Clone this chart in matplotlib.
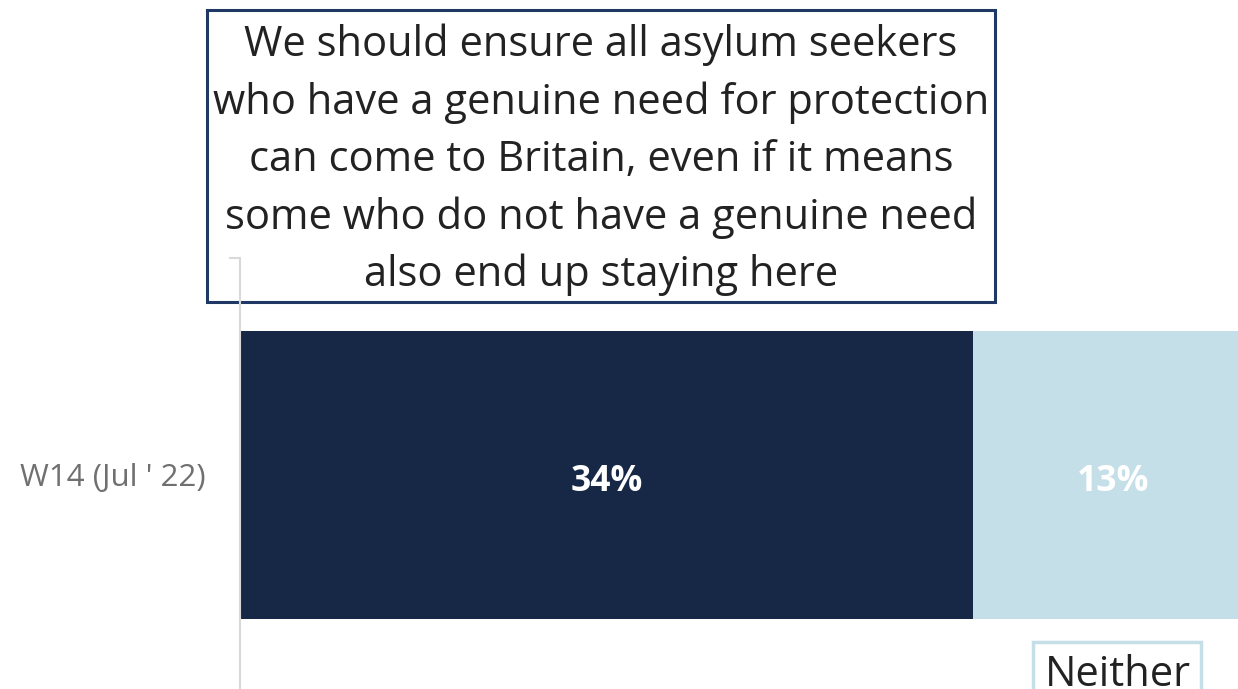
import matplotlib.pyplot as plt
from matplotlib.patches import Rectangle

plt.rcParams['font.family'] = ['Open Sans', 'DejaVu Sans']

categories = ["W14 (Jul ' 22)"]
series_names = ["Agree", "Neither"]
values = {"Agree": [34], "Neither": [13]}
colors = {"Agree": "#172846", "Neither": "#C5DFE8"}
title = ("We should ensure all asylum seekers\n"
         "who have a genuine need for protection\n"
         "can come to Britain, even if it means\n"
         "some who do not have a genuine need\n"
         "also end up staying here")

W, H = 1238, 689
fig = plt.figure(figsize=(W / 100, H / 100), dpi=100)

# axes runs past the right edge of the picture, like the cropped original
ax = fig.add_axes([240 / W, (H - 692) / H, 998 / W, 434 / H])
ax.patch.set_visible(False)
ax.set_xlim(0, 998 / 21.56)
ax.set_ylim(-0.5, 0.5)

left = 0
for name in series_names:
    v = values[name][0]
    ax.barh(0, v, left=left, height=0.664, color=colors[name], edgecolor='none')
    ax.text(left + v / 2, -0.037, f"{v}%", ha='center', va='baseline', color='white',
            fontsize=25.5, fontweight='bold', clip_on=False)
    left += v

for s in ['top', 'right', 'bottom']:
    ax.spines[s].set_visible(False)
ax.spines['left'].set_color('#D9D9D9')
ax.spines['left'].set_linewidth(1.5)
ax.set_xticks([])
ax.set_yticks([0])
ax.set_yticklabels(categories, fontsize=22.5, color='#707070')
ax.tick_params(axis='y', which='major', length=0, pad=25)
ax.set_yticks([0.5, -0.5], minor=True)
ax.tick_params(axis='y', which='minor', length=8, width=1.5, color='#D9D9D9', direction='out')

# question box (drawn under the axes so the axis line shows through)
fig.patches.append(Rectangle((207 / W, 1 - 302 / H), 788 / W, 292 / H, transform=fig.transFigure,
                             fill=True, facecolor='white', edgecolor='#1F3864', linewidth=2.2, zorder=-1))
fig.text(601 / W, 1 - 160 / H, title, ha='center', va='center', fontsize=30,
         color='#222222', linespacing=1.47, zorder=6)

# legend-like box
fig.patches.append(Rectangle((1033 / W, 1 - 700 / H), 168 / W, 58 / H, transform=fig.transFigure,
                             fill=False, edgecolor='#C5DFE8', linewidth=2.5, zorder=5))
fig.text(1118 / W, 1 - 686 / H, series_names[1], ha='center', va='baseline', fontsize=30,
         color='#222222', zorder=6)

fig.savefig('out.png', dpi=100)
